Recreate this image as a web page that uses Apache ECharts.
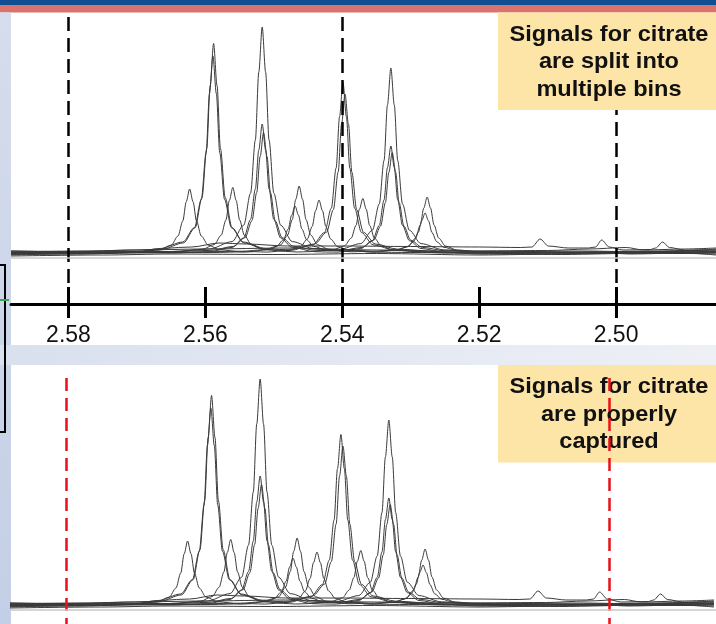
<!DOCTYPE html>
<html>
<head>
<meta charset="utf-8">
<script src="https://cdn.jsdelivr.net/npm/echarts@6/dist/echarts.min.js"></script>
<style>
  html, body { margin: 0; padding: 0; background: #fff; }
  #chart { width: 716px; height: 624px; }
</style>
</head>
<body>
<div id="chart"></div>
<script>
// chemical shift ticks (ppm) and bin edges
var ppmTicks = [2.58, 2.56, 2.54, 2.52, 2.50];
var topBins = [2.58, 2.54, 2.50];
var bottomBins = [2.58, 2.5007];
var topNote = ['Signals for citrate', 'are split into', 'multiple bins'];
var bottomNote = ['Signals for citrate', 'are properly', 'captured'];

// overlaid spectra, [ppm, intensity]
var trace1 = [[2.5884,1.5],[2.5800,2.5],[2.5760,2],
  [2.5700,3.1],[2.5667,5.2],[2.5650,9.9],[2.5640,19],[2.5633,34],[2.5628,53.2],[2.5623,66],[2.5618,53.2],[2.5613,34],[2.5606,19],[2.5596,9.9],[2.5579,5.2],[2.5546,3.1],
  [2.5528,3.3],
  [2.5511,2.9],[2.5478,4.7],[2.5461,8.5],[2.5451,16],[2.5444,28.5],[2.5439,44.4],[2.5434,55],[2.5429,44.4],[2.5424,28.5],[2.5417,16],[2.5407,8.5],[2.5390,4.7],[2.5357,2.9],
  [2.5300,2.5],[2.5150,1.5],[2.5000,2.5],[2.4854,3]];
var trace2 = [[2.5884,3],[2.5780,2],[2.5700,3],
  [2.5665,5.2],[2.5632,12.1],[2.5615,27.3],[2.5605,57.2],[2.5598,106.5],[2.5593,169.5],[2.5588,211.5],[2.5583,169.5],[2.5578,106.5],[2.5571,57.2],[2.5561,27.3],[2.5544,12.1],[2.5511,5.2],
  [2.5494,4.8],
  [2.5476,4.5],[2.5443,10.2],[2.5426,22.5],[2.5416,46.8],[2.5409,87],[2.5404,138.3],[2.5399,172.5],[2.5394,138.3],[2.5389,87],[2.5382,46.8],[2.5372,22.5],[2.5355,10.2],[2.5322,4.5],
  [2.5250,2],[2.5100,3],[2.4950,2],[2.4854,3.5]];
var trace3 = [[2.5884,0.5],[2.5760,1.5],[2.5700,3.5],
  [2.5666,6.5],[2.5633,13],[2.5616,27.4],[2.5606,55.5],[2.5599,102],[2.5594,161.4],[2.5589,199],[2.5584,161.4],[2.5579,102],[2.5572,55.5],[2.5562,27.4],[2.5545,13],[2.5512,6.5],
  [2.5492,5.5],
  [2.5473,5.8],[2.5440,11.1],[2.5423,22.7],[2.5413,45.4],[2.5406,83],[2.5401,131],[2.5396,161],[2.5391,131],[2.5386,83],[2.5379,45.4],[2.5369,22.7],[2.5352,11.1],[2.5319,5.8],
  [2.5250,3],[2.5080,2.5],[2.4950,4],[2.4854,5]];
var trace4 = [[2.5884,2],[2.5780,1],[2.5700,2.5],
  [2.5637,3.6],[2.5604,5.8],[2.5587,10.5],[2.5577,19.7],[2.5570,35],[2.5565,54.5],[2.5560,67.5],[2.5555,54.5],[2.5550,35],[2.5543,19.7],[2.5533,10.5],[2.5516,5.8],[2.5483,3.6],
  [2.5465,3],
  [2.5447,3.4],[2.5414,5.2],[2.5397,9.1],[2.5387,16.8],[2.5380,29.5],[2.5375,45.7],[2.5370,56.5],[2.5365,45.7],[2.5360,29.5],[2.5353,16.8],[2.5343,9.1],[2.5326,5.2],[2.5293,3.4],
  [2.5200,2],[2.5050,3],[2.4900,1.5],[2.4854,2.5]];
var trace5 = [[2.5884,1],[2.5760,3],[2.5650,3.5],
  [2.5594,6],[2.5561,13.4],[2.5544,29.8],[2.5534,61.9],[2.5527,115],[2.5522,182.8],[2.5517,228],[2.5512,182.8],[2.5507,115],[2.5500,61.9],[2.5490,29.8],[2.5473,13.4],[2.5440,6],
  [2.5423,5],
  [2.5406,5.2],[2.5373,11.4],[2.5356,24.8],[2.5346,51],[2.5339,94.5],[2.5334,150],[2.5329,187],[2.5324,150],[2.5319,94.5],[2.5312,51],[2.5302,24.8],[2.5285,11.4],[2.5252,5.2],
  [2.5200,3],[2.5060,2],[2.4930,3.5],[2.4854,4]];
var trace6 = [[2.5884,4],[2.5780,3],[2.5650,2],
  [2.5594,3.3],[2.5561,7.6],[2.5544,17],[2.5534,35.5],[2.5527,66],[2.5522,105],[2.5517,131],[2.5512,105],[2.5507,66],[2.5500,35.5],[2.5490,17],[2.5473,7.6],[2.5440,3.3],
  [2.5423,3],
  [2.5406,2.9],[2.5373,6.5],[2.5356,14.3],[2.5346,29.6],[2.5339,55],[2.5334,87.4],[2.5329,109],[2.5324,87.4],[2.5319,55],[2.5312,29.6],[2.5302,14.3],[2.5285,6.5],[2.5252,2.9],
  [2.5200,1],[2.5080,0.5],[2.4950,2],[2.4854,1]];
var trace7 = [[2.5884,2.5],[2.5760,2],[2.5650,3.5],
  [2.5592,4.6],[2.5559,8.6],[2.5542,17.3],[2.5532,34.3],[2.5525,62.5],[2.5520,98.5],[2.5515,122.5],[2.5510,98.5],[2.5505,62.5],[2.5498,34.3],[2.5488,17.3],[2.5471,8.6],[2.5438,4.6],
  [2.5421,4.5],
  [2.5404,4.3],[2.5371,7.6],[2.5354,14.8],[2.5344,29],[2.5337,52.5],[2.5332,82.5],[2.5327,102.5],[2.5322,82.5],[2.5317,52.5],[2.5310,29],[2.5300,14.8],[2.5283,7.6],[2.5250,4.3],
  [2.5200,3],[2.5050,4],[2.4950,3],[2.4854,6]];
var trace8 = [[2.5884,3],[2.5780,4],[2.5650,2.5],[2.5590,2.5],
  [2.5540,3.2],[2.5507,5.4],[2.5490,10.2],[2.5480,19.8],[2.5473,35.5],[2.5468,55.6],[2.5463,69],[2.5458,55.6],[2.5453,35.5],[2.5446,19.8],[2.5436,10.2],[2.5419,5.4],[2.5386,3.2],
  [2.5370,3.5],
  [2.5353,3],[2.5320,4.8],[2.5303,8.9],[2.5293,16.8],[2.5286,30],[2.5281,46.8],[2.5276,58],[2.5271,46.8],[2.5266,30],[2.5259,16.8],[2.5249,8.9],[2.5232,4.8],[2.5199,3],
  [2.5150,2],[2.5000,2.5],[2.4900,4],[2.4854,3]];
var trace9 = [[2.5884,0],[2.5760,1.5],[2.5620,3],
  [2.5546,3.8],[2.5513,5.3],[2.5496,8.7],[2.5486,15.2],[2.5479,26],[2.5474,39.8],[2.5469,49],[2.5464,39.8],[2.5459,26],[2.5452,15.2],[2.5442,8.7],[2.5425,5.3],[2.5392,3.8],
  [2.5374,4.5],
  [2.5356,3.7],[2.5323,5],[2.5306,7.8],[2.5296,13.3],[2.5289,22.5],[2.5284,34.2],[2.5279,42],[2.5274,34.2],[2.5269,22.5],[2.5262,13.3],[2.5252,7.8],[2.5235,5],[2.5202,3.7],
  [2.5150,3],[2.5020,1.5],[2.4920,2.5],[2.4854,2]];
var trace10 = [[2.5884,2],[2.5800,3],[2.5700,5],[2.5620,8],[2.5580,12],[2.5540,11],[2.5480,9],[2.5400,9],
  [2.5300,8.5],[2.5200,8],[2.5140,7.5],[2.5123,8],[2.5111,16],[2.5099,9],[2.5070,7],[2.5040,7],
  [2.5030,8],[2.5021,15],[2.5010,8],[2.4990,5],[2.4950,5.5],[2.4942,7],[2.4932,13],[2.4922,7.5],[2.4900,5],[2.4854,5]];
var trace11 = [[2.5884,-1],[2.5750,0],[2.5650,1],[2.5500,0.5],[2.5350,1.5],[2.5200,0],[2.5080,1],[2.5030,3],[2.4980,1],[2.4900,2],[2.4854,0]];
var trace12 = [[2.5884,4],[2.5800,3.5],[2.5700,5],[2.5600,6],[2.5480,7],[2.5350,5],[2.5250,4],[2.5100,4.5],[2.5040,6],[2.4985,7.5],[2.4960,5],[2.4900,6],[2.4854,7]];

var spectra = [trace1, trace2, trace3, trace4, trace5, trace6, trace7, trace8, trace9, trace10, trace11, trace12];

var chart = echarts.init(document.getElementById('chart'), null, { renderer: 'canvas' });

var font = '"Liberation Sans", Arial, Helvetica, sans-serif';

var series = [];
spectra.forEach(function (d, i) {
  // top panel
  series.push({
    type: 'line', xAxisIndex: 0, yAxisIndex: 0, data: d,
    symbol: 'none', smooth: 0.3, smoothMonotone: 'x', silent: true, z: 3,
    lineStyle: { color: '#3a3a3a', width: 1 }
  });
  // bottom panel
  series.push({
    type: 'line', xAxisIndex: 2, yAxisIndex: 1, data: d,
    symbol: 'none', smooth: 0.3, smoothMonotone: 'x', silent: true, z: 3,
    lineStyle: { color: '#3a3a3a', width: 1 }
  });
});

// bin edges + grey baseline rule
series[0].markLine = {
  silent: true, symbol: ['none', 'none'], label: { show: false },
  lineStyle: { color: '#000', width: 2.5, type: [14, 7] },
  data: topBins.map(function (v) { return { xAxis: v }; }).concat([
    { yAxis: -3, lineStyle: { color: '#c8c8c8', width: 1.5, type: 'solid' } }
  ])
};
series[1].markLine = {
  silent: true, symbol: ['none', 'none'], label: { show: false },
  lineStyle: { color: '#e8101a', width: 2.5, type: [13, 7] },
  data: bottomBins.map(function (v) { return [{ coord: [v, 229] }, { coord: [v, -17] }]; }).concat([
    { yAxis: -3, lineStyle: { color: '#c8c8c8', width: 1.5, type: 'solid' } }
  ])
};

function noteElements(lines, top, z) {
  var els = [{
    type: 'rect', z: z, silent: true,
    shape: { x: 498, y: top, width: 218, height: 97.5 },
    style: { fill: '#fde5a7' }
  }];
  lines.forEach(function (t, i) {
    els.push({
      type: 'text', z: z + 1, silent: true,
      x: 609, y: top + 22 + i * 27.5, scaleX: 1.07,
      style: { text: t, x: 0, y: 0, align: 'center', verticalAlign: 'middle',
        font: 'bold 22px ' + font, fill: '#111' }
    });
  });
  return els;
}

var option = {
  backgroundColor: '#fff',
  animation: false,
  grid: [
    { left: 11, top: 12, width: 705, height: 292 },
    { left: 11, top: 365, width: 705, height: 259 }
  ],
  xAxis: [
    {
      gridIndex: 0, type: 'value', inverse: true, position: 'bottom',
      min: 2.4854, max: 2.5884,
      axisLine: { onZero: false, lineStyle: { color: '#000', width: 3 } },
      axisTick: { customValues: ppmTicks, length: 14, lineStyle: { color: '#000', width: 3 } },
      axisLabel: {
        customValues: ppmTicks, margin: 20, fontSize: 23, color: '#111', fontFamily: font,
        formatter: function (v) { return v.toFixed(2); }
      },
      splitLine: { show: false }
    },
    {
      gridIndex: 0, type: 'value', inverse: true, position: 'bottom',
      min: 2.4854, max: 2.5884,
      axisLine: { show: false, onZero: false },
      axisTick: { customValues: ppmTicks, inside: true, length: 17, lineStyle: { color: '#000', width: 3 } },
      axisLabel: { show: false },
      splitLine: { show: false }
    },
    {
      gridIndex: 1, type: 'value', inverse: true, show: false,
      axisLine: { onZero: false },
      min: 2.4851, max: 2.5881
    }
  ],
  yAxis: [
    { gridIndex: 0, type: 'value', min: -49, max: 243, show: false },
    { gridIndex: 1, type: 'value', min: -17, max: 242, show: false }
  ],
  graphic: [
    { type: 'rect', z: 0, silent: true, shape: { x: 0, y: 0, width: 716, height: 5 }, style: { fill: '#0f4f91' } },
    { type: 'rect', z: 0, silent: true, shape: { x: 0, y: 5, width: 716, height: 7.5 }, style: { fill: '#d9736e' } },
    {
      type: 'rect', z: 0, silent: true, shape: { x: 0, y: 12.5, width: 11, height: 612 },
      style: { fill: new echarts.graphic.LinearGradient(0, 0, 0, 1, [
        { offset: 0, color: '#d6ddec' }, { offset: 1, color: '#c3cfe6' }]) }
    },
    {
      type: 'rect', z: 0, silent: true, shape: { x: 0, y: 345, width: 716, height: 20 },
      style: { fill: new echarts.graphic.LinearGradient(0, 0, 1, 0, [
        { offset: 0, color: '#d9e0ee' }, { offset: 1, color: '#eef0f6' }]) }
    },
    { type: 'rect', z: 1, silent: true, shape: { x: -3, y: 265, width: 8, height: 167 }, style: { fill: null, stroke: '#000', lineWidth: 2 } },
    { type: 'line', z: 1, silent: true, shape: { x1: 0, y1: 300, x2: 9, y2: 300 }, style: { stroke: '#3aa655', lineWidth: 2 } }
  ].concat(noteElements(topNote, 12.5, 100)).concat(noteElements(bottomNote, 365, 1)),
  series: series
};

chart.setOption(option);
</script>
</body>
</html>
